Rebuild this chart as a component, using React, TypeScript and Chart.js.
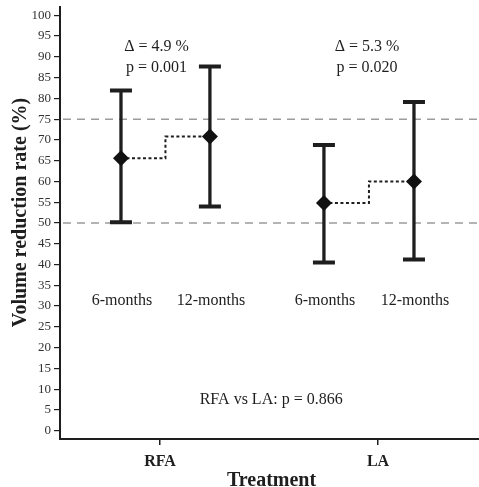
import React, { useEffect, useRef } from "react";
import { Chart, registerables } from "chart.js";

Chart.register(...registerables);

// ---- Data ----
const categories = ["RFA", "LA"];
const timepoints = ["6-months", "12-months"];
const categoryX = [1, 2];
const rfaX = [0.821, 1.229];
const laX = [1.752, 2.165];
const rfaMean = [65.6, 70.8];
const rfaUpper = [81.9, 87.7];
const rfaLower = [50.2, 54.0];
const laMean = [54.8, 60.0];
const laUpper = [68.8, 79.1];
const laLower = [40.5, 41.2];
const deltaLabels = ["\u0394 = 4.9 %", "\u0394 = 5.3 %"];
const pLabels = ["p = 0.001", "p = 0.020"];
const comparisonLabel = "RFA vs LA: p = 0.866";
const referenceLines = [50, 75];
const yTicks = [0, 5, 10, 15, 20, 25, 30, 35, 40, 45, 50, 55, 60, 65, 70, 75, 80, 85, 90, 95, 100];
const yTitle = "Volume reduction rate (%)";
const xTitle = "Treatment";

const FONT = "'Liberation Serif', 'Times New Roman', serif";
const INK = "#1e1e1e";

const groups = [
  { xs: rfaX, mean: rfaMean, upper: rfaUpper, lower: rfaLower },
  { xs: laX, mean: laMean, upper: laUpper, lower: laLower },
];

const annotPlugin = {
  id: "annot",
  beforeDatasetsDraw(chart: any) {
    const { ctx, chartArea } = chart;
    const x = chart.scales.x;
    const y = chart.scales.y;
    ctx.save();
    // reference dashed lines
    ctx.strokeStyle = "#9c9c9c";
    ctx.lineWidth = 1.5;
    ctx.setLineDash([8, 6]);
    referenceLines.forEach((v) => {
      const py = y.getPixelForValue(v);
      ctx.beginPath();
      ctx.moveTo(chartArea.left + 3, py);
      ctx.lineTo(chartArea.right, py);
      ctx.stroke();
    });
    // dotted step lines
    ctx.strokeStyle = INK;
    ctx.lineWidth = 2;
    ctx.setLineDash([3, 2.5]);
    groups.forEach((g) => {
      const x0 = x.getPixelForValue(g.xs[0]);
      const x1 = x.getPixelForValue(g.xs[1]);
      const xm = (x0 + x1) / 2;
      const y0 = y.getPixelForValue(g.mean[0]);
      const y1 = y.getPixelForValue(g.mean[1]);
      ctx.beginPath();
      ctx.moveTo(x0, y0);
      ctx.lineTo(xm, y0);
      ctx.lineTo(xm, y1);
      ctx.lineTo(x1, y1);
      ctx.stroke();
    });
    // error bars
    ctx.setLineDash([]);
    ctx.strokeStyle = INK;
    groups.forEach((g) => {
      g.xs.forEach((xv, i) => {
        const px = x.getPixelForValue(xv);
        const pu = y.getPixelForValue(g.upper[i]);
        const pl = y.getPixelForValue(g.lower[i]);
        ctx.lineWidth = 3.3;
        ctx.beginPath();
        ctx.moveTo(px, pu);
        ctx.lineTo(px, pl);
        ctx.stroke();
        ctx.lineWidth = 4;
        ctx.beginPath();
        ctx.moveTo(px - 11, pu);
        ctx.lineTo(px + 11, pu);
        ctx.moveTo(px - 11, pl);
        ctx.lineTo(px + 11, pl);
        ctx.stroke();
      });
    });
    ctx.restore();
  },
  afterDraw(chart: any) {
    const { ctx, chartArea } = chart;
    const x = chart.scales.x;
    const y = chart.scales.y;
    ctx.save();
    ctx.fillStyle = INK;
    ctx.textAlign = "center";
    ctx.textBaseline = "alphabetic";
    ctx.font = `16px ${FONT}`;
    // delta / p annotations
    const annotX = [0.984, 1.95];
    annotX.forEach((xv, i) => {
      const px = x.getPixelForValue(xv);
      ctx.fillText(deltaLabels[i], px, y.getPixelForValue(91.5));
      ctx.fillText(pLabels[i], px, y.getPixelForValue(86.4));
    });
    // timepoint labels
    groups.forEach((g) => {
      g.xs.forEach((xv, i) => {
        ctx.fillText(timepoints[i], x.getPixelForValue(xv) + 1, y.getPixelForValue(30.2));
      });
    });
    // comparison label
    ctx.fillText(comparisonLabel, x.getPixelForValue(1.51), y.getPixelForValue(6.4));
    // axis titles
    ctx.font = `bold 20px ${FONT}`;
    ctx.fillText(xTitle, (chartArea.left + chartArea.right) / 2 + 2, 486);
    ctx.save();
    ctx.translate(26, 212.5);
    ctx.rotate(-Math.PI / 2);
    ctx.fillText(yTitle, 0, 0);
    ctx.restore();
    ctx.restore();
  },
};

export default function App() {
  const ref = useRef<HTMLCanvasElement | null>(null);
  useEffect(() => {
    document.body.style.margin = "0";
    const canvas = ref.current;
    if (!canvas) return;
    const points = [
      ...rfaX.map((xv, i) => ({ x: xv, y: rfaMean[i] })),
      ...laX.map((xv, i) => ({ x: xv, y: laMean[i] })),
    ];
    const chart = new Chart(canvas, {
      type: "scatter",
      data: {
        datasets: [
          {
            label: "Mean",
            data: points,
            pointStyle: "rectRot",
            pointRadius: 8,
            pointHoverRadius: 8,
            backgroundColor: "#111",
            borderColor: "#111",
            borderWidth: 0,
            clip: false,
          },
        ],
      },
      options: {
        responsive: false,
        animation: false,
        events: [],
        layout: { autoPadding: false, padding: { top: 7, right: 0, left: 0, bottom: 0 } },
        plugins: {
          legend: { display: false },
          tooltip: { enabled: false },
          title: { display: false },
        },
        scales: {
          x: {
            type: "linear",
            min: 0.5413,
            max: 2.4633,
            afterFit: (s: any) => {
              s.height = 48;
              s.paddingLeft = 0;
              s.paddingRight = 0;
            },
            afterBuildTicks: (s: any) => {
              s.ticks = categoryX.map((v) => ({ value: v }));
            },
            ticks: {
              callback: (v: any) => categories[categoryX.indexOf(Number(v))] ?? "",
              font: { family: FONT, size: 16, weight: "bold" },
              color: INK,
              padding: 7,
              maxRotation: 0,
              autoSkip: false,
            },
            grid: {
              drawOnChartArea: false,
              drawTicks: true,
              tickLength: 6,
              color: INK,
              lineWidth: 1.5,
            },
            border: { display: true, color: INK, width: 2 },
          },
          y: {
            type: "linear",
            min: -2,
            max: 102,
            afterFit: (s: any) => {
              s.width = 60;
              s.paddingTop = 0;
              s.paddingBottom = 0;
            },
            afterBuildTicks: (s: any) => {
              s.ticks = yTicks.map((v) => ({ value: v }));
            },
            ticks: {
              font: { family: FONT, size: 13 },
              color: "#333",
              padding: 3,
              autoSkip: false,
            },
            grid: {
              drawOnChartArea: false,
              drawTicks: true,
              tickLength: 6,
              color: INK,
              lineWidth: 1.2,
            },
            border: { display: true, color: INK, width: 2 },
          },
        },
      },
      plugins: [annotPlugin],
    } as any);
    return () => chart.destroy();
  }, []);
  return (
    <div style={{ width: 479, height: 487 }}>
      <canvas ref={ref} width={479} height={487} />
    </div>
  );
}
